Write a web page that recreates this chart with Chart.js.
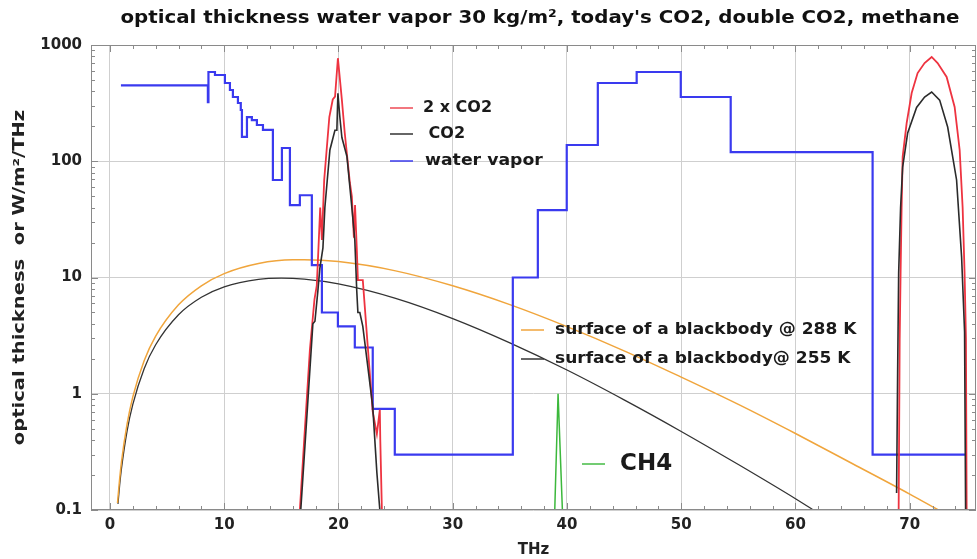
<!DOCTYPE html>
<html>
<head>
<meta charset="utf-8">
<script src="https://cdn.jsdelivr.net/npm/chart.js@4.4.1/dist/chart.umd.min.js"></script>
<style>
  html, body { margin: 0; padding: 0; background: #fff; }
  #wrap { width: 977px; height: 559px; position: relative; }
</style>
</head>
<body>
<div id="wrap"><canvas id="spectrum-chart"></canvas></div>
<script>

// water vapor, step levels (THz where the level starts, value)
var waterFreq = [0.96, 8.57, 8.62, 9.19, 10.06, 10.5, 10.76, 11.2, 11.45, 11.55, 11.99, 12.42, 12.86, 13.39, 14.26, 15.05, 15.75, 16.62, 17.67, 18.55, 19.95, 21.43, 23.0, 24.93, 35.26, 37.45, 39.98, 42.7, 46.1, 49.96, 54.33, 66.75, 74.98];
var waterVal  = [450, 323, 586, 552, 471, 410, 357, 317, 276, 162, 240, 226, 205, 186, 69, 130, 42, 51, 12.8, 5.0, 3.8, 2.5, 0.74, 0.3, 10, 38, 138, 471, 586, 357, 120, 0.3, 0.3];

// today's CO2 (null = gap between the two bands)
var co2Freq = [16.7, 17.3, 17.76, 17.94, 18.2, 18.37, 18.64, 18.81, 19.25, 19.69, 19.86, 19.95, 20.12, 20.3, 20.74, 21.17, 21.43, 21.6, 21.7, 21.87, 22.13, 22.57, 23.0, 23.36, 23.62,
               45,
               68.85, 68.94, 69.03, 69.2, 69.38, 69.82, 70.6, 71.3, 71.92, 72.62, 73.32, 74.1, 74.54, 74.8, 74.89];
var co2Val  = [0.1, 0.8, 4.0, 4.2, 7.7, 12, 18, 40, 125, 185, 185, 385, 240, 160, 110, 40, 21, 7.7, 5, 5, 3.8, 1.7, 0.77, 0.21, 0.1,
               null,
               0.14, 1.5, 10.9, 40, 89, 175, 290, 357, 394, 336, 197, 69, 15, 3.4, 0.1];

// double CO2
var co2dFreq = [16.62, 17.0, 17.5, 17.9, 18.1, 18.25, 18.4, 18.55, 18.75, 19.2, 19.5, 19.7, 19.95, 20.3, 20.55, 21.0, 21.17, 21.35, 21.45, 21.6, 21.7, 22.13, 22.57, 23.0, 23.36, 23.62, 23.66, 23.8,
                45,
                69.03, 69.12, 69.2, 69.29, 69.38, 69.73, 70.17, 70.69, 71.3, 71.92, 72.44, 73.23, 73.93, 74.37, 74.63, 74.8, 74.92, 74.98];
var co2dVal  = [0.1, 0.4, 2.4, 6.5, 8.5, 18, 40, 21, 69, 240, 340, 360, 770, 336, 175, 65, 50, 22, 42, 18, 9.5, 9.5, 2.5, 0.7, 0.45, 0.73, 0.4, 0.1,
                null,
                0.1, 2.9, 10.9, 40, 109, 213, 386, 574, 700, 789, 700, 531, 293, 125, 40, 10.9, 3, 0.1];

// methane
var ch4Freq = [38.93, 39.22, 39.6];
var ch4Val  = [0.1, 1.0, 0.1];

// blackbody surfaces, W/m²/THz
var bb288Freq = [0.66, 0.8, 1, 1.5, 2, 3, 4, 6, 8, 10, 13, 16, 17, 20, 25, 30, 35, 40, 45, 50, 55, 60, 65, 70, 72.5];
var bb288Val  = [0.115, 0.165, 0.256, 0.55, 0.94, 1.93, 3.13, 5.82, 8.49, 10.8, 13.2, 14.2, 14.2, 13.7, 11.4, 8.48, 5.84, 3.78, 2.34, 1.39, 0.81, 0.455, 0.25, 0.137, 0.1];
var bb255Freq = [0.7, 0.85, 1, 1.5, 2, 3, 4, 6, 8, 10, 13, 15, 17, 20, 25, 30, 35, 40, 45, 50, 55, 60, 62];
var bb255Val  = [0.113, 0.165, 0.224, 0.48, 0.81, 1.65, 2.64, 4.78, 6.76, 8.32, 9.65, 9.88, 9.68, 8.8, 6.61, 4.43, 2.74, 1.6, 0.886, 0.474, 0.246, 0.125, 0.094];

var xTickVals = [0, 10, 20, 30, 40, 50, 60, 70];
var yTickVals = [0.1, 1, 10, 100, 1000];

var titleText = "optical thickness water vapor 30 kg/m\u00b2, today's CO2, double CO2, methane";
var yTitleText = 'optical thickness  or W/m\u00b2/THz';

var FONT = "'DejaVu Sans', sans-serif";

function pts(xs, ys) {
    return xs.map(function (x, i) { return { x: x, y: ys[i] }; });
}

function isPow10(v) {
    return yTickVals.some(function (p) { return Math.abs(v - p) < p * 1e-6; });
}

// text drawn a little wider than the font, like the original export
function stretchedText(ctx, text, x, y, sx) {
    ctx.save();
    ctx.translate(x, y);
    ctx.scale(sx, 1);
    ctx.fillText(text, 0, 0);
    ctx.restore();
}

var notes = [
    { text: '2 x CO2', color: '#ee4a55', lx: 390, tx: 423, y: 108, size: 16, sx: 1.0 },
    { text: ' CO2', color: '#333333', lx: 390, tx: 423, y: 134, size: 16, sx: 1.0 },
    { text: 'water vapor', color: '#3b3bee', lx: 390, tx: 425, y: 161, size: 16, sx: 1.08 },
    { text: 'surface of a blackbody @ 288 K', color: '#f0a53c', lx: 521, tx: 555, y: 330, size: 16, sx: 1.065 },
    { text: 'surface of a blackbody@ 255 K', color: '#333333', lx: 521, tx: 555, y: 359, size: 16, sx: 1.065 },
    { text: 'CH4', color: '#44bb44', lx: 582, tx: 620, y: 464, size: 23, sx: 1.0 }
];

var decorPlugin = {
    id: 'decor',
    afterDatasetsDraw: function (chart) {
        var ctx = chart.ctx, a = chart.chartArea;
        var xs = chart.scales.x, ys = chart.scales.y;
        ctx.save();
        ctx.strokeStyle = '#8a8a8a';
        ctx.lineWidth = 1;
        ctx.strokeRect(a.left + 0.5, a.top + 0.5, a.right - a.left - 1, a.bottom - a.top - 1);

        ctx.beginPath();
        xs.ticks.forEach(function (t) {
            var px = Math.round(xs.getPixelForValue(t.value)) + 0.5;
            var len = (t.value % 10 === 0) ? 7 : 4;
            ctx.moveTo(px, a.bottom); ctx.lineTo(px, a.bottom - len);
            ctx.moveTo(px, a.top); ctx.lineTo(px, a.top + len);
        });
        ys.ticks.forEach(function (t) {
            var py = Math.round(ys.getPixelForValue(t.value)) + 0.5;
            var len = isPow10(t.value) ? 7 : 4;
            ctx.moveTo(a.left, py); ctx.lineTo(a.left + len, py);
            ctx.moveTo(a.right, py); ctx.lineTo(a.right - len, py);
        });
        ctx.stroke();

        // in-plot labels
        notes.forEach(function (n) {
            ctx.strokeStyle = n.color;
            ctx.lineWidth = 1.5;
            ctx.beginPath();
            ctx.moveTo(n.lx, n.y);
            ctx.lineTo(n.lx + 23, n.y);
            ctx.stroke();
            ctx.fillStyle = '#1a1a1a';
            ctx.font = 'bold ' + n.size + 'px ' + FONT;
            ctx.textAlign = 'left';
            ctx.textBaseline = 'middle';
            stretchedText(ctx, n.text, n.tx, n.y, n.sx);
        });

        // title
        ctx.fillStyle = '#111';
        ctx.font = 'bold 18px ' + FONT;
        ctx.textAlign = 'center';
        ctx.textBaseline = 'middle';
        stretchedText(ctx, titleText, 540, 18, 1.1);

        // y axis title
        ctx.save();
        ctx.translate(20, (a.top + a.bottom) / 2);
        ctx.rotate(-Math.PI / 2);
        ctx.font = 'bold 15px ' + FONT;
        ctx.fillStyle = '#222';
        stretchedText(ctx, yTitleText, 0, 0, 1.3);
        ctx.restore();
        ctx.restore();
    }
};

var ctx = document.getElementById('spectrum-chart');

var myChart = new Chart(ctx, {
    type: 'line',
    data: {
        datasets: [
            {
                label: 'CO2',
                data: pts(co2Freq, co2Val),
                borderColor: '#2b2b2b',
                borderWidth: 1.6,
                spanGaps: false,
                tension: 0
            }, {
                label: '2 x CO2',
                data: pts(co2dFreq, co2dVal),
                borderColor: '#ee3340',
                borderWidth: 1.8,
                spanGaps: false,
                tension: 0
            }, {
                label: 'CH4',
                data: pts(ch4Freq, ch4Val),
                borderColor: '#3cb83c',
                borderWidth: 1.5,
                tension: 0
            }, {
                label: 'water vapor',
                data: pts(waterFreq, waterVal),
                borderColor: '#3a3aef',
                borderWidth: 2.2,
                stepped: true
            }, {
                label: 'surface of a blackbody @ 288 K',
                data: pts(bb288Freq, bb288Val),
                borderColor: '#f0a53c',
                borderWidth: 1.5,
                cubicInterpolationMode: 'monotone'
            }, {
                label: 'surface of a blackbody@ 255 K',
                data: pts(bb255Freq, bb255Val),
                borderColor: '#333333',
                borderWidth: 1.3,
                cubicInterpolationMode: 'monotone'
            }
        ]
    },
    options: {
        responsive: true,
        maintainAspectRatio: false,
        animation: false,
        layout: { padding: { top: 45, right: 1, left: 0, bottom: 0 } },
        elements: { point: { radius: 0, hoverRadius: 0 } },
        plugins: {
            legend: { display: false },
            tooltip: { enabled: false }
        },
        scales: {
            x: {
                type: 'linear',
                min: -1.66,
                max: 75.8,
                afterBuildTicks: function (scale) {
                    var t = [];
                    for (var v = 0; v <= 74; v += 2) t.push({ value: v });
                    scale.ticks = t;
                },
                afterFit: function (scale) { scale.height = 49; },
                grid: {
                    drawTicks: false,
                    color: function (c) {
                        return (c.tick && c.tick.value % 10 === 0) ? '#cfcfcf' : 'rgba(0,0,0,0)';
                    }
                },
                border: { display: false },
                ticks: {
                    autoSkip: false,
                    maxRotation: 0,
                    padding: 6,
                    color: '#222',
                    font: { family: FONT, size: 15, weight: 'bold' },
                    callback: function (v) {
                        return xTickVals.indexOf(v) >= 0 ? String(v) : '';
                    }
                },
                title: {
                    display: true,
                    text: 'THz',
                    color: '#222',
                    padding: { top: 0, bottom: 0 },
                    font: { family: FONT, size: 15, weight: 'bold' }
                }
            },
            y: {
                type: 'logarithmic',
                min: 0.1,
                max: 1000,
                afterBuildTicks: function (scale) {
                    var t = [];
                    yTickVals.forEach(function (p, i) {
                        if (i === yTickVals.length - 1) { t.push({ value: p }); return; }
                        for (var k = 1; k <= 9; k++) t.push({ value: +(p * k).toPrecision(3) });
                    });
                    scale.ticks = t;
                },
                afterFit: function (scale) { scale.width = 91; },
                grid: {
                    drawTicks: false,
                    color: function (c) {
                        return (c.tick && isPow10(c.tick.value)) ? '#cfcfcf' : 'rgba(0,0,0,0)';
                    }
                },
                border: { display: false },
                ticks: {
                    autoSkip: false,
                    padding: 9,
                    color: '#222',
                    font: { family: FONT, size: 15, weight: 'bold' },
                    callback: function (v) {
                        return isPow10(v) ? String(v) : '';
                    }
                },
                title: { display: false }
            }
        }
    },
    plugins: [decorPlugin]
});
</script>
</body>
</html>
